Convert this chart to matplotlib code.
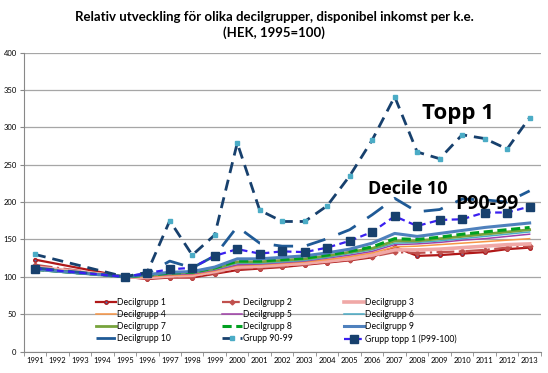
import numpy as np
import matplotlib
matplotlib.use('Agg')
import matplotlib.pyplot as plt

plt.rcParams['font.family'] = ['Lato', 'DejaVu Sans']

# years with data (1992-1994 missing, lines go straight from 1991 to 1995)
years = [1991] + list(range(1995, 2014))
all_years = list(range(1991, 2014))

d1 = [123, 100, 97, 99, 99, 104, 109, 111, 113, 116, 119, 122, 126, 140, 128, 129, 131, 133, 137, 139]
d2 = [116, 100, 98, 100, 100, 105, 111, 112, 114, 117, 120, 123, 127, 133, 132, 133, 134, 136, 139, 141]
d3 = [113, 100, 99, 101, 102, 107, 113, 114, 116, 118, 121, 124, 129, 136, 136, 137, 139, 141, 143, 144]
d4 = [112, 100, 100, 102, 103, 108, 115, 116, 118, 120, 123, 127, 132, 140, 141, 143, 145, 147, 149, 151]
d5 = [111, 100, 101, 103, 104, 109, 116, 117, 119, 121, 125, 129, 134, 143, 144, 146, 149, 151, 154, 157]
d6 = [111, 100, 101, 104, 105, 110, 118, 118, 120, 122, 126, 131, 136, 145, 146, 148, 151, 154, 157, 160]
d7 = [110, 100, 102, 105, 106, 111, 120, 120, 122, 124, 128, 133, 138, 148, 148, 151, 154, 157, 160, 163]
d8 = [110, 100, 102, 105, 106, 112, 121, 121, 123, 125, 129, 134, 140, 151, 150, 153, 157, 160, 163, 166]
d9 = [110, 100, 103, 106, 107, 113, 124, 124, 126, 128, 132, 137, 145, 158, 154, 158, 162, 166, 169, 172]
d10 = [112, 100, 104, 121, 112, 128, 167, 145, 141, 141, 151, 163, 183, 205, 187, 190, 204, 203, 200, 215]
g90_99 = [130, 100, 106, 175, 129, 156, 279, 189, 174, 174, 195, 235, 283, 341, 267, 258, 290, 285, 271, 313]
topp1 = [111, 100, 105, 110, 112, 128, 137, 131, 134, 133, 139, 148, 160, 181, 168, 176, 177, 186, 186, 194]

fig = plt.figure(figsize=(5.48, 3.73), dpi=100)
ax = fig.add_axes([0.043, 0.0576, 0.944, 0.8014])

h = {}
h[1], = ax.plot(years, d1, color='#B01818', lw=1.6, marker='o', ms=2.5,
                mfc='#4F6FB0', mec='#B01818', label='Decilgrupp 1')
h[2], = ax.plot(years, d2, color='#C0504D', lw=1.6, ls=(0, (8, 2, 1, 2)), marker='D', ms=2.5,
                mfc='#C0504D', mec='#C0504D', label='Decilgrupp 2')
h[3], = ax.plot(years, d3, color='#F0A8A6', lw=2.6, label='Decilgrupp 3')
h[4], = ax.plot(years, d4, color='#F79646', lw=1.1, label='Decilgrupp 4')
h[5], = ax.plot(years, d5, color='#A040A8', lw=1.1, label='Decilgrupp 5')
h[6], = ax.plot(years, d6, color='#4BACC6', lw=1.1, label='Decilgrupp 6')
h[7], = ax.plot(years, d7, color='#77A33C', lw=2.0, label='Decilgrupp 7')
h[8], = ax.plot(years, d8, color='#00A020', lw=2.2, ls=(0, (3, 1.5)), label='Decilgrupp 8')
h[9], = ax.plot(years, d9, color='#4F81BD', lw=2.2, label='Decilgrupp 9')
h[10], = ax.plot(years, d10, color='#1F5A96', lw=2.0, ls=(0, (7, 5)), label='Decilgrupp 10')
h[11], = ax.plot(years, g90_99, color='#17406D', lw=2.0, ls=(0, (4, 2.5)), marker='s', ms=3,
                 mfc='#4BACC6', mec='#4BACC6', label='Grupp 90-99')
h[12], = ax.plot(years, topp1, color='#3A1FF0', lw=1.6, ls=(0, (3, 2)), marker='s', ms=6,
                 mfc='#17406D', mec='#17406D', label='Grupp topp 1 (P99-100)')

ax.set_xlim(1990.5, 2013.5)
ax.set_ylim(0, 400)
ax.set_yticks(np.arange(0, 401, 50))
ax.set_xticks(all_years)
ax.set_xticks(np.arange(1990.5, 2014, 1), minor=True)
ax.tick_params(axis='x', which='major', length=0, labelsize=5.5, pad=4)
ax.tick_params(axis='x', which='minor', length=3, color='#888888')
ax.tick_params(axis='y', length=3, color='#888888', labelsize=5.5, pad=2)
ax.grid(axis='y', color='#A6A6A6', lw=0.9)
ax.set_axisbelow(True)
for s in ['top', 'right']:
    ax.spines[s].set_visible(False)
for s in ['left', 'bottom']:
    ax.spines[s].set_color('#888888')
    ax.spines[s].set_linewidth(0.8)

# legend row-wise order (3 columns)
order = [1, 4, 7, 10, 2, 5, 8, 11, 3, 6, 9, 12]
ax.legend([h[i] for i in order], [h[i].get_label() for i in order], ncol=3,
          frameon=False, fontsize=6.2, loc='upper left',
          bbox_to_anchor=(92 / 548, 1 - 294 / 373), bbox_transform=fig.transFigure,
          handlelength=2.3, handletextpad=0.15, columnspacing=5.9, labelspacing=0.35,
          borderpad=0)

ax.text(2009.8, 319, 'Topp 1', fontsize=16, fontweight='bold', ha='center', va='center',
        family=['Open Sans', 'DejaVu Sans'])
ax.text(2007.6, 217, 'Decile 10', fontsize=13, fontweight='bold', ha='center', va='center',
        family=['Open Sans', 'DejaVu Sans'])
ax.text(2011.1, 197, 'P90-99', fontsize=14, fontweight='bold', ha='center', va='center',
        family=['Open Sans', 'DejaVu Sans'])

fig.text(0.5, 0.955, 'Relativ utveckling för olika decilgrupper, disponibel inkomst per k.e.',
         ha='center', va='center', fontsize=9.5, fontweight='bold')
fig.text(0.5, 0.912, '(HEK, 1995=100)', ha='center', va='center', fontsize=9.5, fontweight='bold')

fig.savefig('out.png', dpi=100)
